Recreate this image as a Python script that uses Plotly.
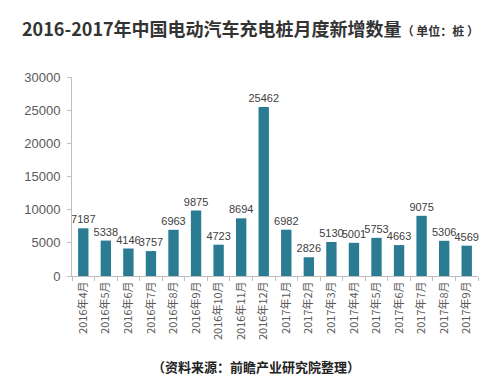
import plotly.graph_objects as go

categories = ["2016年4月", "2016年5月", "2016年6月", "2016年7月", "2016年8月", "2016年9月",
              "2016年10月", "2016年11月", "2016年12月", "2017年1月", "2017年2月", "2017年3月",
              "2017年4月", "2017年5月", "2017年6月", "2017年7月", "2017年8月", "2017年9月"]
values = [7187, 5338, 4146, 3757, 6963, 9875, 4723, 8694, 25462, 6982, 2826, 5130,
          5001, 5753, 4663, 9075, 5306, 4569]
y_ticks = [0, 5000, 10000, 15000, 20000, 25000, 30000]

title_text = "2016-2017年中国电动汽车充电桩月度新增数量"
unit_text = "（ 单位：桩 ）"
source_text = "（资料来源：前瞻产业研究院整理）"

font_cjk = "Noto Sans CJK SC, Microsoft YaHei, sans-serif"
font_lat = "Liberation Sans, Arial, sans-serif"

fig = go.Figure(go.Bar(
    x=categories, y=values,
    marker=dict(color="#2b7c93", line=dict(width=0)),
    text=[str(v) for v in values], textposition="outside",
    textangle=0, constraintext="none",
    textfont=dict(family=font_lat, size=11, color="#404040"),
    cliponaxis=False,
))

fig.update_layout(
    width=488, height=383,
    margin=dict(l=64, r=18, t=69, b=115),
    paper_bgcolor="white", plot_bgcolor="white",
    bargap=0.54,
    showlegend=False,
    xaxis=dict(
        type="category", tickangle=-90,
        tickfont=dict(family=font_cjk, size=11, color="#595959"),
        showline=True, linecolor="#bfbfbf", linewidth=1,
        ticks="outside", ticklen=4, tickcolor="#bfbfbf",
        tickson="boundaries", showgrid=False,
    ),
    yaxis=dict(
        range=[0, 30000], tickvals=y_ticks, ticktext=[str(t) for t in y_ticks],
        tickfont=dict(family=font_lat, size=13, color="#595959"),
        showline=True, linecolor="#bfbfbf", linewidth=1,
        ticks="outside", ticklen=4, tickcolor="#bfbfbf",
        ticklabelstandoff=4,
        showgrid=False, zeroline=False,
    ),
    annotations=[
        dict(xref="paper", yref="paper", x=-52/406, y=1 + (69-20)/199, xanchor="left", yanchor="middle",
             text="<b>" + title_text + "</b><span style='font-size:12px'><b>" + unit_text + "</b></span>",
             showarrow=False, font=dict(family=font_cjk, size=18, color="#333333")),
        dict(xref="paper", yref="paper", x=(248-64)/406, y=-(358-268)/199, xanchor="center", yanchor="middle",
             text="<b>" + source_text + "</b>", showarrow=False,
             font=dict(family=font_cjk, size=13, color="#222222")),
    ],
)

fig.write_html("out.html")
